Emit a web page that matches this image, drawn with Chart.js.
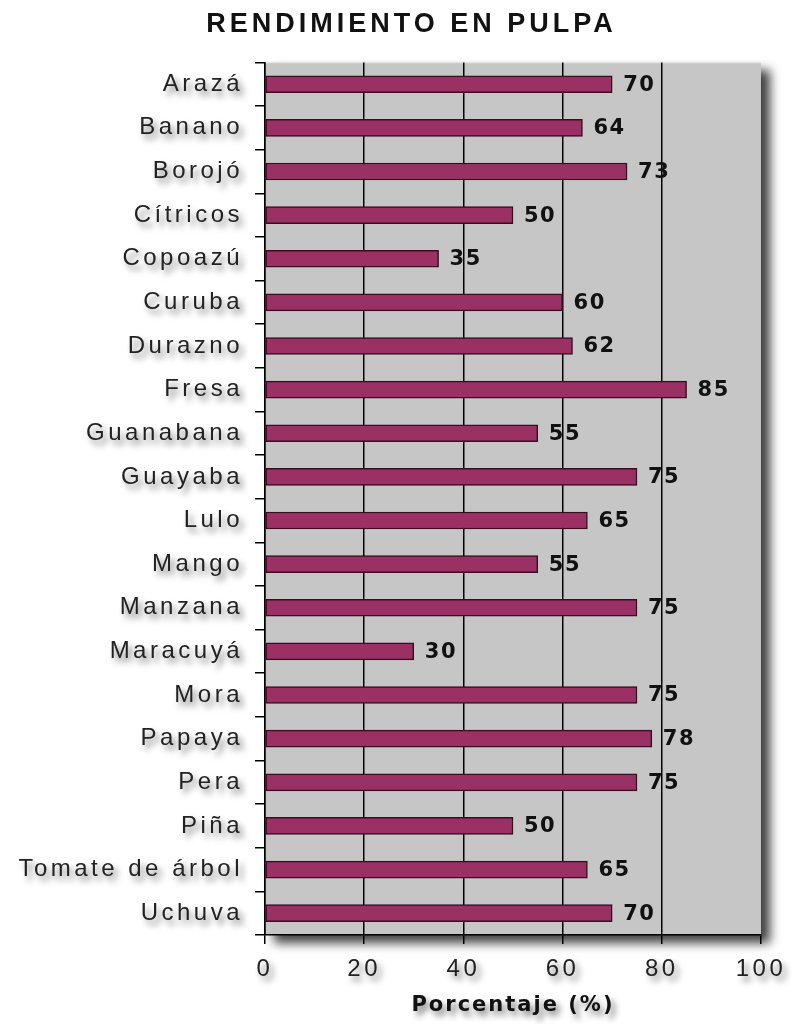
<!DOCTYPE html>
<html>
<head>
<meta charset="utf-8">
<title>Rendimiento en pulpa</title>
<script src="https://cdn.jsdelivr.net/npm/chart.js@4.4.1/dist/chart.umd.min.js"></script>
<style>
  html, body { margin: 0; padding: 0; background: #fff; }
  #wrap { width: 792px; height: 1024px; }
</style>
</head>
<body>
<div id="wrap"><canvas id="pulpa" width="792" height="1024"></canvas></div>
<script>
const frutas = ['Arazá', 'Banano', 'Borojó', 'Cítricos', 'Copoazú', 'Curuba', 'Durazno', 'Fresa',
    'Guanabana', 'Guayaba', 'Lulo', 'Mango', 'Manzana', 'Maracuyá', 'Mora', 'Papaya', 'Pera',
    'Piña', 'Tomate de árbol', 'Uchuva'];
const rendimiento = [70, 64, 73, 50, 35, 60, 62, 85, 55, 75, 65, 55, 75, 30, 75, 78, 75, 50, 65, 70];
const ticksX = [0, 20, 40, 60, 80, 100];

// wraps a draw method so its text gets letter spacing, an optional soft shadow and shift
function envolver(obj, metodo, espacio, sombra, dx) {
    const orig = obj[metodo];
    obj[metodo] = function (...args) {
        const ctx = this.ctx;
        ctx.save();
        ctx.letterSpacing = espacio;
        if (dx) ctx.translate(dx, 0);
        if (sombra) {
            ctx.shadowColor = 'rgba(0,0,0,0.5)';
            ctx.shadowBlur = 6;
            ctx.shadowOffsetX = 4;
            ctx.shadowOffsetY = 5;
        }
        orig.apply(this, args);
        ctx.restore();
    };
}

const estiloTexto = {
    id: 'estiloTexto',
    beforeDraw(chart) {
        if (chart._parcheado) return;
        envolver(chart.scales.y, 'drawLabels', '3.5px', true);
        envolver(chart.scales.x, 'drawLabels', '3.5px', true);
        envolver(chart.scales.x, 'drawTitle', '2px', true);
        if (chart.titleBlock) envolver(chart.titleBlock, 'draw', '4px', false, 29);
        chart._parcheado = true;
    }
};

// gray plot area with a drop shadow on the right and bottom
const fondoGrafico = {
    id: 'fondoGrafico',
    beforeDraw(chart) {
        const { ctx, chartArea: a } = chart;
        ctx.save();
        ctx.shadowColor = 'rgba(0,0,0,0.75)';
        ctx.shadowBlur = 10;
        ctx.shadowOffsetX = 9;
        ctx.shadowOffsetY = 8;
        ctx.fillStyle = '#c6c6c6';
        ctx.fillRect(a.left, a.top, a.right - a.left, a.bottom - a.top);
        ctx.restore();
        ctx.save();
        ctx.strokeStyle = '#e4e4e4';
        ctx.lineWidth = 1.5;
        ctx.beginPath();
        ctx.moveTo(a.left, a.top);
        ctx.lineTo(a.right, a.top);
        ctx.stroke();
        ctx.restore();
    }
};

// value printed at the end of each bar
const etiquetas = {
    id: 'etiquetas',
    afterDatasetsDraw(chart) {
        const ctx = chart.ctx;
        const meta = chart.getDatasetMeta(0);
        ctx.save();
        ctx.letterSpacing = '1.5px';
        ctx.font = 'bold 21px "DejaVu Sans"';
        ctx.fillStyle = '#111';
        ctx.textAlign = 'left';
        ctx.textBaseline = 'middle';
        meta.data.forEach((bar, i) => {
            ctx.fillText(String(rendimiento[i]), bar.x + 11, bar.y + 1);
        });
        ctx.restore();
    }
};

new Chart(document.getElementById('pulpa'), {
    type: 'bar',
    data: {
        labels: frutas,
        datasets: [{
            data: rendimiento,
            backgroundColor: '#9b3064',
            borderColor: '#3a0c20',
            borderWidth: 1.5,
            borderSkipped: false,
            barThickness: 17
        }]
    },
    options: {
        indexAxis: 'y',
        responsive: false,
        animation: false,
        layout: { padding: { left: 0, right: 27, top: 0, bottom: 0 } },
        plugins: {
            legend: { display: false },
            tooltip: { enabled: false },
            title: {
                display: true,
                text: 'RENDIMIENTO EN PULPA',
                color: '#111',
                font: { family: '"Liberation Sans", Arial', size: 27, weight: 'bold' },
                padding: { top: 8, bottom: 22 }
            }
        },
        scales: {
            x: {
                min: 0,
                max: 100,
                afterBuildTicks: (scale) => { scale.ticks = ticksX.map(v => ({ value: v })); },
                afterFit: (scale) => { scale.height = 89; },
                grid: {
                    color: (c) => (c.tick && c.tick.value === 100 ? 'transparent' : '#000'),
                    tickColor: '#000',
                    lineWidth: 1.5,
                    tickLength: 9
                },
                border: { color: '#000', width: 1.5 },
                ticks: {
                    color: '#222',
                    padding: 11,
                    font: { family: '"Liberation Sans", Arial', size: 24 }
                },
                title: {
                    display: true,
                    text: 'Porcentaje (%)',
                    color: '#111',
                    font: { family: '"DejaVu Sans"', size: 21, weight: 'bold' },
                    padding: { top: 0, bottom: 6 }
                }
            },
            y: {
                afterFit: (scale) => { scale.width = 265; },
                grid: {
                    offset: true,
                    drawOnChartArea: false,
                    tickColor: '#000',
                    lineWidth: 1.5,
                    tickLength: 10
                },
                border: { color: '#000', width: 1.5 },
                ticks: {
                    color: '#222',
                    padding: 12,
                    font: { family: '"Liberation Sans", Arial', size: 24 }
                }
            }
        }
    },
    plugins: [estiloTexto, fondoGrafico, etiquetas]
});
</script>
</body>
</html>
